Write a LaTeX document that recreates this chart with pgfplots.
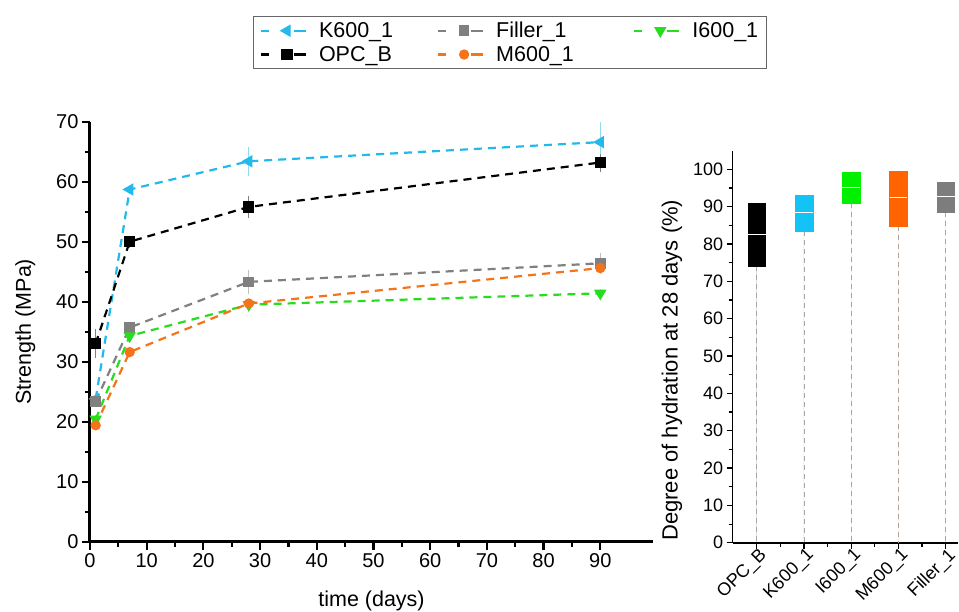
\documentclass[border=0pt]{standalone}
\usepackage{fontspec}
\setmainfont{Liberation Sans}
\usepackage{pgfplots}
\pgfplotsset{compat=1.18}
\usepgfplotslibrary{statistics}

\definecolor{cyanK}{RGB}{35,185,235}
\definecolor{greenI}{RGB}{40,220,30}
\definecolor{orangeM}{RGB}{245,115,25}
\definecolor{grayF}{RGB}{128,128,128}
\definecolor{bCyan}{RGB}{20,195,245}
\definecolor{bGreen}{RGB}{0,240,0}
\definecolor{bOrange}{RGB}{255,100,0}
\definecolor{bGray}{RGB}{125,125,125}

\pgfplotsset{
  /pgf/number format/assume math mode=true,
  ser/.style={color=#1, line width=2.2pt, dash pattern=on 8pt off 6pt,
    error bars/.cd, y dir=both, y explicit, error mark=none,
    error bar style={solid, line width=1pt, #1!50}},
  bx/.style={draw=#1, fill=#1,
    boxplot/draw direction=y,
    boxplot/every box/.style={draw=#1, fill=#1},
    boxplot/every median/.style={draw=white, line width=1pt},
    boxplot/every whisker/.style={draw=black!35, line width=0.8pt, dash pattern=on 5pt off 4pt}},
}

\begin{document}
\begin{tikzpicture}[x=1pt,y=1pt]
\path[use as bounding box] (0,0) rectangle (959,-612);

% strength over time
\begin{axis}[
  at={(90pt,-541.7pt)}, anchor=south west,
  scale only axis, width=563pt, height=420pt,
  xmin=0, xmax=99.3, ymin=0, ymax=70,
  axis lines*=left,
  axis line style={line width=3pt},
  tick align=outside,
  major tick length=8pt, minor tick length=5pt,
  every tick/.style={black, line width=2.2pt},
  minor x tick num=1, minor y tick num=1,
  xtick={0,10,...,90}, ytick={0,10,...,70},
  tick label style={font=\fontsize{20}{24}\selectfont},
  xlabel={time (days)}, ylabel={Strength (MPa)},
  every axis x label/.style={at={(rel axis cs:0.5,-0.141)}, anchor=center, font=\fontsize{21.5}{26}\selectfont},
  every axis y label/.style={at={(rel axis cs:-0.115,0.5)}, anchor=center, rotate=90, font=\fontsize{21.5}{26}\selectfont},
  clip=false,
  legend columns=3,
  legend style={at={(0.746,1.1886)}, anchor=center, draw=black!60, line width=1pt,
    font=\fontsize{21.5}{26}\selectfont, cells={anchor=west},
    /tikz/every odd column/.append style={column sep=10pt},
    row sep=3pt, inner xsep=6pt, inner ysep=4pt},
  legend image code/.code={
    \draw[#1, mark=none, solid] (0pt,0pt) -- (8pt,0pt);
    \draw[#1, mark=none, solid] (33pt,0pt) -- (45pt,0pt);
    \draw[#1, only marks] plot coordinates {(26pt,0pt)};
  },
]
\addplot[mark=triangle*, mark size=5pt, mark options={solid, rotate=90}, ser=cyanK]
  coordinates {(1,23.8) +- (0,0.6) (7,58.7) +- (0,0.6) (28,63.4) +- (0,2.4) (90,66.6) +- (0,3.3)};
\addlegendentry{\makebox[116pt][l]{K600\_1}}
\addplot[mark=square*, mark size=4.2pt, mark options={solid}, ser=grayF]
  coordinates {(1,23.4) +- (0,0.8) (7,35.7) +- (0,1.0) (28,43.3) +- (0,2.0) (90,46.4) +- (0,1.8)};
\addlegendentry{\makebox[135pt][l]{Filler\_1}}
\addplot[mark=triangle*, mark size=5pt, mark options={solid, rotate=180}, ser=greenI]
  coordinates {(1,20.4) +- (0,0.7) (7,34.3) +- (0,0.8) (28,39.5) +- (0,0.8) (90,41.4) +- (0,0.8)};
\addlegendentry{I600\_1}
\addplot[mark=square*, mark size=4.5pt, mark options={solid}, ser=black]
  coordinates {(1,33.0) +- (0,2.4) (7,50.0) +- (0,1.0) (28,55.8) +- (0,1.8) (90,63.2) +- (0,1.5)};
\addlegendentry{\makebox[116pt][l]{OPC\_B}}
\addplot[mark=*, mark size=4pt, mark options={solid}, ser=orangeM]
  coordinates {(1,19.4) +- (0,0.6) (7,31.6) +- (0,0.8) (28,39.7) +- (0,0.8) (90,45.6) +- (0,1.0)};
\addlegendentry{\makebox[135pt][l]{M600\_1}}
\end{axis}

% degree of hydration at 28 days
\begin{axis}[
  at={(732.7pt,-542.8pt)}, anchor=south west,
  scale only axis, width=224.8pt, height=392.2pt,
  xmin=0.492, xmax=5.25, ymin=0, ymax=105,
  axis lines*=left,
  axis line style={line width=1.5pt},
  tick align=outside,
  major tick length=6pt, minor tick length=4pt,
  every tick/.style={black, line width=1.2pt},
  xtick={1,...,5},
  xticklabels={OPC\_B, K600\_1, I600\_1, M600\_1, Filler\_1},
  ytick={0,10,...,100},
  minor x tick num=1, minor y tick num=1,
  yticklabel style={font=\fontsize{18}{22}\selectfont},
  xticklabel style={font=\fontsize{18}{22}\selectfont, rotate=45, anchor=north east, xshift=6pt, yshift=4pt},
  ylabel={Degree of hydration at 28 days (\%)},
  every axis y label/.style={at={(rel axis cs:-0.27,0.44)}, anchor=center, rotate=90, font=\fontsize{22}{26}\selectfont},
  clip=false,
]
\addplot[bx=black, boxplot prepared={draw position=1, lower whisker=0, lower quartile=74.1,
  median=82.6, upper quartile=90.9, upper whisker=90.9, box extend=0.375, whisker extend=0}]
  coordinates {};
\addplot[bx=bCyan, boxplot prepared={draw position=2, lower whisker=0, lower quartile=83.4,
  median=88.3, upper quartile=93.1, upper whisker=93.1, box extend=0.375, whisker extend=0}]
  coordinates {};
\addplot[bx=bGreen, boxplot prepared={draw position=3, lower whisker=0, lower quartile=90.9,
  median=95.2, upper quartile=99.1, upper whisker=99.1, box extend=0.375, whisker extend=0}]
  coordinates {};
\addplot[bx=bOrange, boxplot prepared={draw position=4, lower whisker=0, lower quartile=84.8,
  median=92.4, upper quartile=99.4, upper whisker=99.4, box extend=0.375, whisker extend=0}]
  coordinates {};
\addplot[bx=bGray, boxplot prepared={draw position=5, lower whisker=0, lower quartile=88.5,
  median=92.7, upper quartile=96.5, upper whisker=96.5, box extend=0.375, whisker extend=0}]
  coordinates {};
\end{axis}
\end{tikzpicture}
\end{document}
